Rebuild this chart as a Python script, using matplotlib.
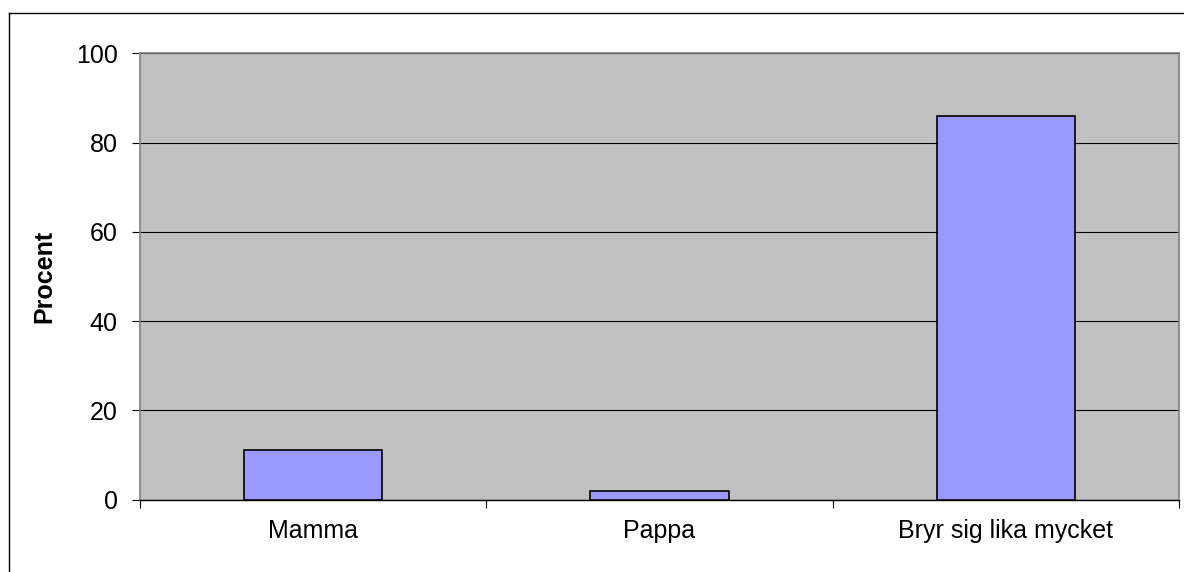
import matplotlib
matplotlib.use("Agg")
import matplotlib.pyplot as plt
from matplotlib.lines import Line2D

categories = ["Mamma", "Pappa", "Bryr sig lika mycket"]
values = [11, 2, 86]
yticks = [0, 20, 40, 60, 80, 100]

plt.rcParams['font.family'] = ['Liberation Sans', 'DejaVu Sans']

fig = plt.figure(figsize=(11.84, 5.72), dpi=100)
fig.patch.set_facecolor('white')
ax = fig.add_axes([140/1184, 1-499.5/572, (1179-140)/1184, (499.5-53.3)/572])
ax.set_facecolor('#C0C0C0')

x = list(range(len(categories)))
ax.bar(x, values, width=0.4, color='#9999FF', edgecolor='black', linewidth=1.2, zorder=3)

ax.set_xlim(-0.5, len(categories)-0.5)
ax.set_ylim(0, 100)
ax.set_yticks(yticks)
ax.set_yticklabels([str(t) for t in yticks], fontsize=18)
ax.yaxis.grid(True, color='black', linewidth=0.8, zorder=1)
ax.set_axisbelow(True)

# category labels at centers, ticks at boundaries
ax.set_xticks([i - 0.5 for i in range(len(categories)+1)])
ax.set_xticklabels([])
ax.set_xticks(x, minor=True)
ax.set_xticklabels(categories, minor=True, fontsize=18)
ax.tick_params(axis='x', which='minor', length=0, pad=14)
ax.tick_params(axis='x', which='major', length=6, width=0.8, color='black', direction='out')
ax.tick_params(axis='y', length=6, width=0.8, color='black', direction='out', pad=10)

for s in ['left', 'top', 'right']:
    ax.spines[s].set_color('#808080')
    ax.spines[s].set_linewidth(1.2)
ax.spines['bottom'].set_color('black')
ax.spines['bottom'].set_linewidth(1.0)

ax.set_ylabel('Procent', fontsize=18, fontweight='bold', labelpad=14)

# outer chart border (left and top visible)
fx = 8.5/1184
fy = 1 - 12.7/572
fig.add_artist(Line2D([fx, fx], [-0.1, fy], transform=fig.transFigure, color='black', linewidth=1.0))
fig.add_artist(Line2D([fx, 1.1], [fy, fy], transform=fig.transFigure, color='black', linewidth=1.0))

fig.savefig('out.png', dpi=100)
